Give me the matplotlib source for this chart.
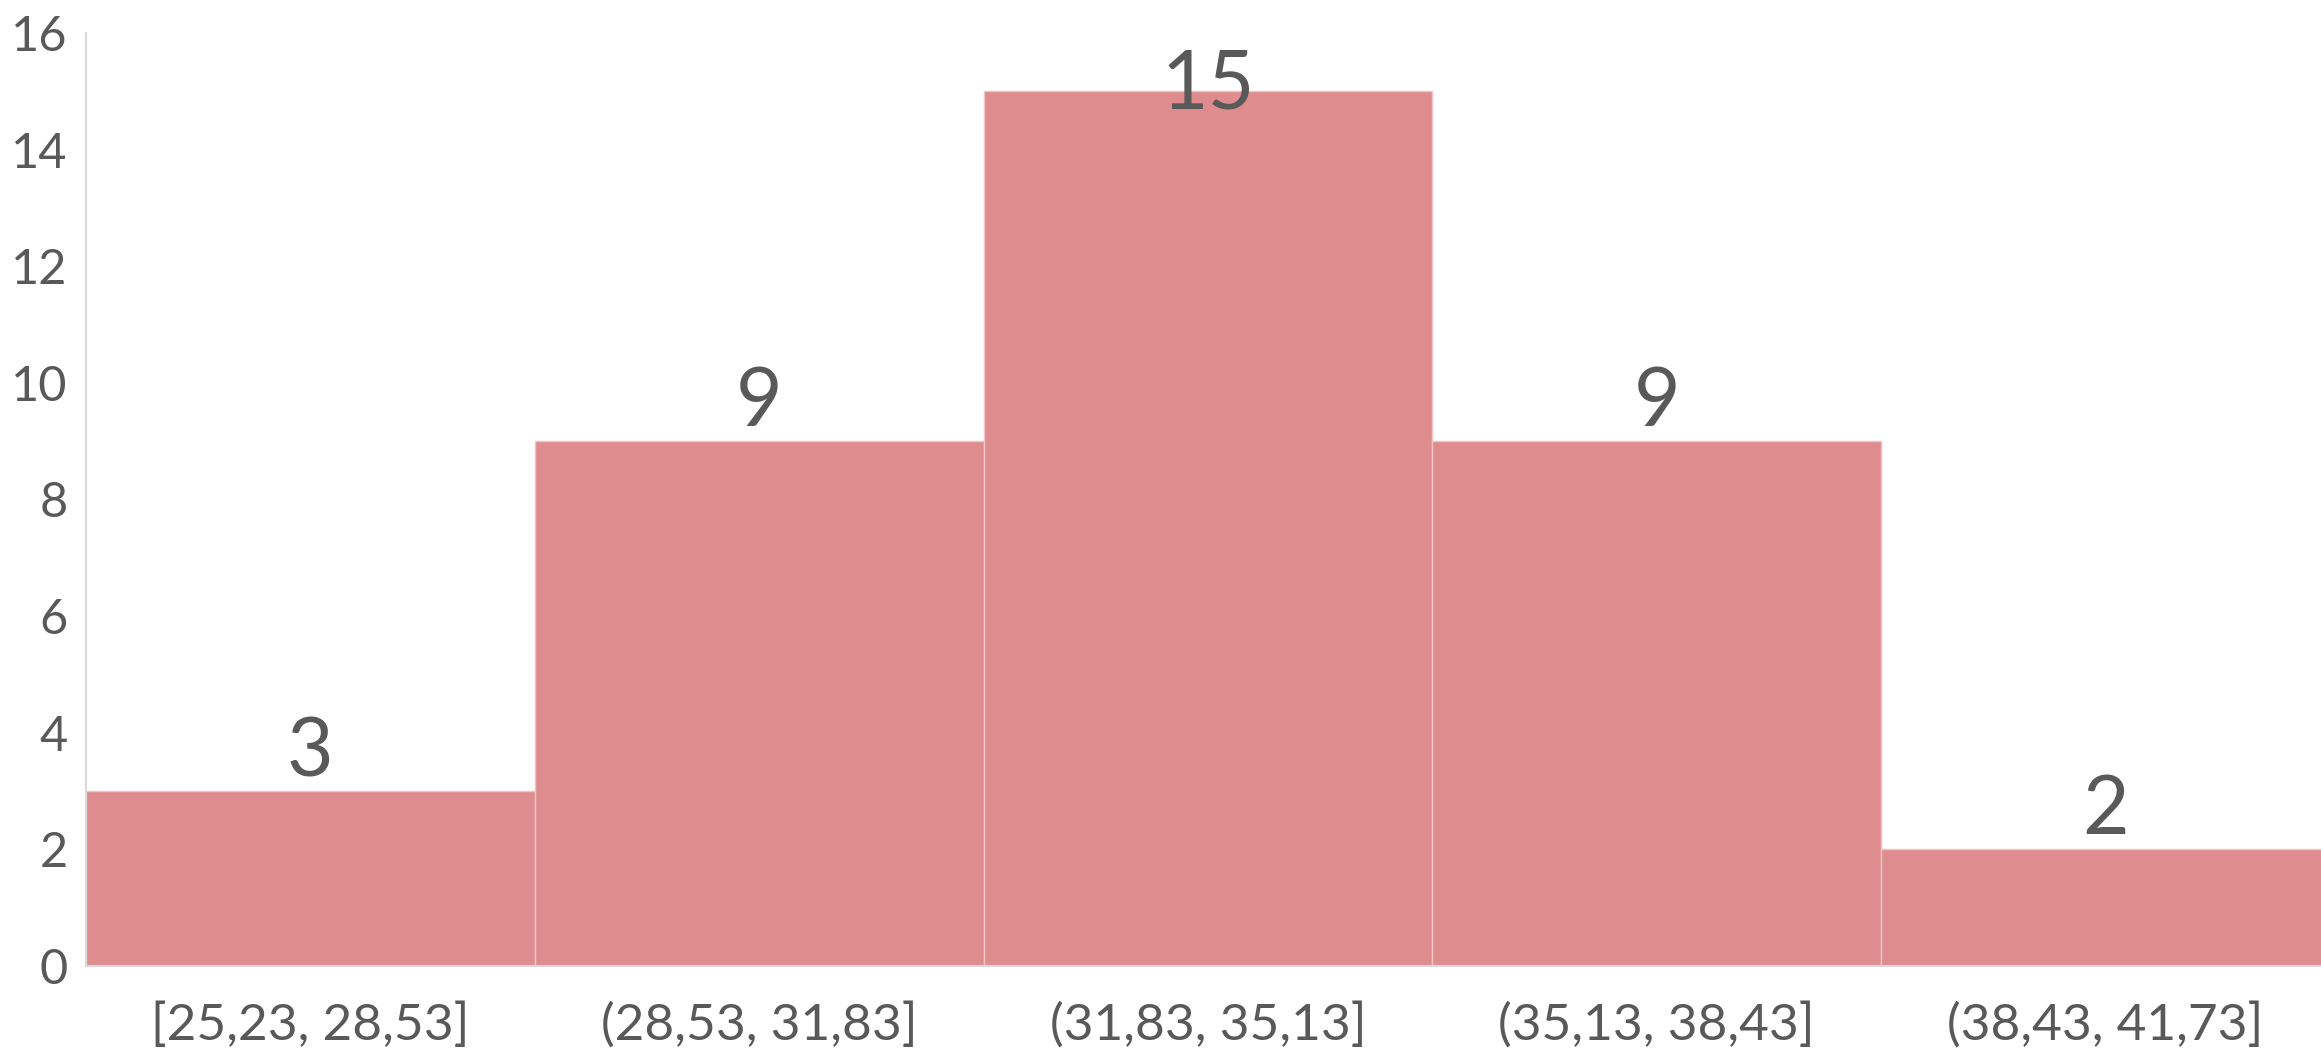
import numpy as np
import matplotlib
matplotlib.use("Agg")
import matplotlib.pyplot as plt

# histogram bins and counts
bins = ["[25,23, 28,53]", "(28,53, 31,83]", "(31,83, 35,13]",
        "(35,13, 38,43]", "(38,43, 41,73]"]
counts = [3, 9, 15, 9, 2]
yticks = [0, 2, 4, 6, 8, 10, 12, 14, 16]

txt = "#595959"
bar_col = "#de8c8e"
plt.rcParams["font.family"] = ["Lato", "DejaVu Sans"]

fig = plt.figure(figsize=(23.21, 10.5), dpi=100)
ax = fig.add_axes([0.037, 0.08, 0.963, 0.8886])

x = np.arange(len(bins))
ax.bar(x, counts, width=1.0, align="edge", color=bar_col,
       edgecolor="#efc4c5", linewidth=1.0)

for xi, v in zip(x, counts):
    ax.text(xi + 0.5, min(v + 0.65, 15.1), str(v), ha="center", va="center",
            fontsize=58, color=txt)

ax.set_xlim(0, 4.98)
ax.set_ylim(0, 16)
ax.set_yticks(yticks)
ax.set_yticklabels([str(t) for t in yticks])
ax.set_xticks(x + 0.5)
ax.set_xticklabels(bins)
ax.tick_params(axis="x", length=0, labelsize=37, colors=txt, pad=26)
ax.tick_params(axis="y", length=0, labelsize=35, colors=txt, pad=13)

for s in ["top", "right"]:
    ax.spines[s].set_visible(False)
for s in ["left", "bottom"]:
    ax.spines[s].set_color("#d9d9d9")
    ax.spines[s].set_linewidth(1.5)

fig.savefig("out.png", dpi=100, facecolor="white")
